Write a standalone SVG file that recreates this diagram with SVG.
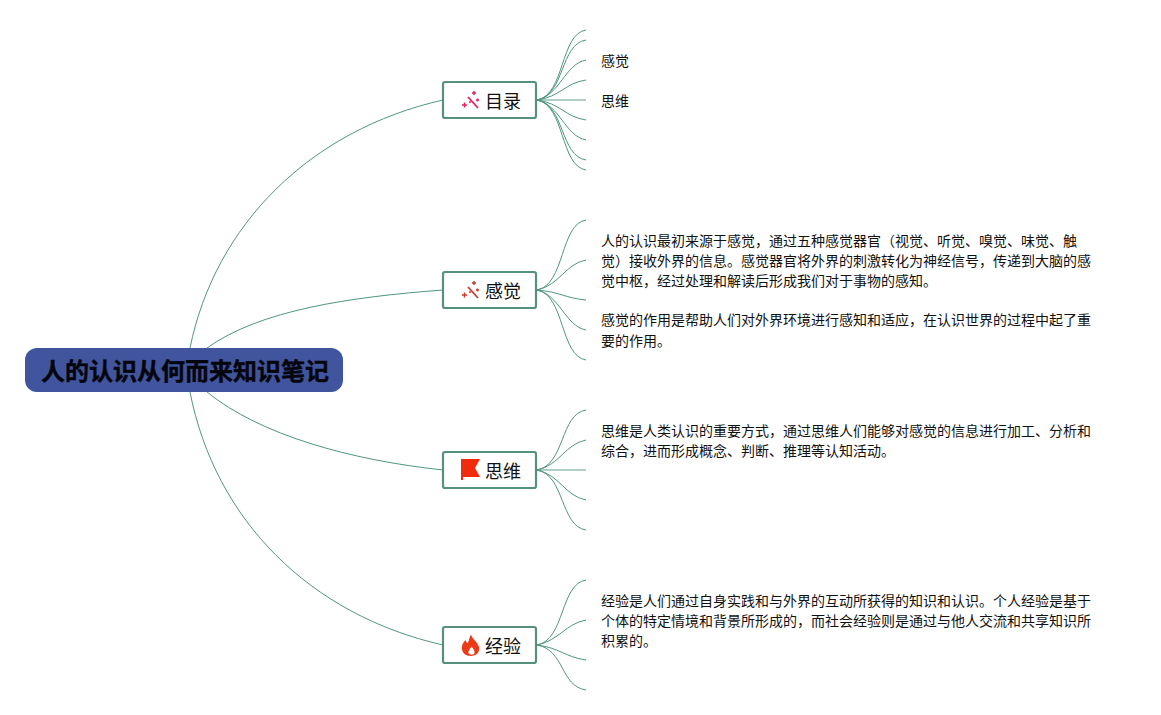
<svg xmlns="http://www.w3.org/2000/svg" width="1161" height="715" viewBox="0 0 1161 715">
<style>
.c{fill:none;stroke:#4f9580;stroke-width:1}
.n{fill:#fff;stroke:#57907f;stroke-width:2.2}
.t{font-family:"Noto Sans CJK SC","Liberation Sans",sans-serif;fill:#111}
.l{font-size:18px;text-anchor:start}
.b{font-size:14px}
.r{font-size:24px;font-weight:700;fill:#05050c;stroke:#05050c;stroke-width:.4}
.w1{stroke:#e0245e;fill:none}
.w2{stroke:#d0392b;fill:none}
</style>
<rect width="1161" height="715" fill="#fff"/>
<g id="connectors">
<path class="c" d="M190 348C215 225 310 130 443 100"/>
<path class="c" d="M207 348C260 310 350 297 443 290"/>
<path class="c" d="M207 392C260 435 350 460 443 470"/>
<path class="c" d="M190 392C215 520 310 615 443 645"/>
<g id="branches-1">
<path class="c" d="M537 100C565 95 560 34 586 30"/>
<path class="c" d="M537 100C565 95 560 44 586 40"/>
<path class="c" d="M537 100C560 95 565 64 586 60"/>
<path class="c" d="M537 100C560 97 565 83 586 80"/>
<path class="c" d="M537 100H586" style="opacity:.6;stroke-width:1.5"/>
<path class="c" d="M537 100C560 103 565 117 586 120"/>
<path class="c" d="M537 100C560 105 565 136 586 140"/>
<path class="c" d="M537 100C565 105 560 156 586 160"/>
<path class="c" d="M537 100C565 105 560 166 586 170"/>
</g>
<g id="branches-2">
<path class="c" d="M537 290C565 285 560 224 586 220"/>
<path class="c" d="M537 290C560 285 565 264 586 260"/>
<path class="c" d="M537 290C560 292 565 298 586 300"/>
<path class="c" d="M537 290C560 295 565 326 586 330"/>
<path class="c" d="M537 290C565 295 560 356 586 360"/>
</g>
<g id="branches-3">
<path class="c" d="M537 470C565 465 560 414 586 410"/>
<path class="c" d="M537 470C560 465 565 444 586 440"/>
<path class="c" d="M537 470H586" style="opacity:.6;stroke-width:1.5"/>
<path class="c" d="M537 470C560 475 565 496 586 500"/>
<path class="c" d="M537 470C565 475 560 526 586 530"/>
</g>
<g id="branches-4">
<path class="c" d="M537 645C565 640 560 584 586 580"/>
<path class="c" d="M537 645C560 640 565 624 586 620"/>
<path class="c" d="M537 645C560 648 565 657 586 660"/>
<path class="c" d="M537 645C565 650 560 686 586 690"/>
</g>
</g>
<g id="root">
<rect x="25" y="348" width="318" height="44" rx="12" fill="#41549e"/>
<text class="t r" x="41" y="380">人的认识从何而来知识笔记</text>
</g>
<g id="node-mulu">
<rect class="n" x="443" y="82" width="93" height="36" rx="2"/>
<path class="w1" stroke-width="1.8" d="M468 97L478 108"/>
<path class="w1" stroke-width="1.5" d="M462 105h5M464.500 102.500v5M472 93h4M474 91v4M476 100h3M477.500 98.500v3M469 102h2"/>
<text class="t l" x="485" y="108">目录</text>
</g>
<g id="node-ganjue">
<rect class="n" x="443" y="272" width="93" height="36" rx="2"/>
<path class="w2" stroke-width="1.8" d="M468 287L478 298"/>
<path class="w2" stroke-width="1.5" d="M462 295h5M464.500 292.500v5M472 283h4M474 281v4M476 290h3M477.500 288.500v3M469 292h2"/>
<text class="t l" x="485" y="298">感觉</text>
</g>
<g id="node-siwei">
<rect class="n" x="443" y="452" width="93" height="36" rx="2"/>
<path d="M461 459H480L475 468L480 477H463V480H461Z" fill="#f02c0c"/>
<text class="t l" x="485" y="478">思维</text>
</g>
<g id="node-jingyan">
<rect class="n" x="443" y="627" width="93" height="36" rx="2"/>
<path d="M471 634.500C472 639 477 641 479 647C480 652 476.500 656 470.500 656C465 656 461 652 462 646C462.500 643.500 464 641.500 465.500 640C466 642 467 643 468 643C469 640 469.500 637 471 634.500ZM471.500 646.500C470 649 468 650.500 468.500 653C469 655 474 655 474.500 653C475 651 473 648.500 471.500 646.500Z" fill="#ec3a17" fill-rule="evenodd"/>
<text class="t l" x="485" y="653">经验</text>
</g>
<g id="leaf-text">
<text class="t b" x="601" y="66">感觉</text>
<text class="t b" x="601" y="106">思维</text>
<text class="t b" x="601" y="246">人的认识最初来源于感觉，通过五种感觉器官（视觉、听觉、嗅觉、味觉、触</text>
<text class="t b" x="601" y="266">觉）接收外界的信息。感觉器官将外界的刺激转化为神经信号，传递到大脑的感</text>
<text class="t b" x="601" y="286">觉中枢，经过处理和解读后形成我们对于事物的感知。</text>
<text class="t b" x="601" y="325">感觉的作用是帮助人们对外界环境进行感知和适应，在认识世界的过程中起了重</text>
<text class="t b" x="601" y="346">要的作用。</text>
<text class="t b" x="601" y="436">思维是人类认识的重要方式，通过思维人们能够对感觉的信息进行加工、分析和</text>
<text class="t b" x="601" y="456">综合，进而形成概念、判断、推理等认知活动。</text>
<text class="t b" x="601" y="606">经验是人们通过自身实践和与外界的互动所获得的知识和认识。个人经验是基于</text>
<text class="t b" x="601" y="626">个体的特定情境和背景所形成的，而社会经验则是通过与他人交流和共享知识所</text>
<text class="t b" x="601" y="646">积累的。</text>
</g>
</svg>
